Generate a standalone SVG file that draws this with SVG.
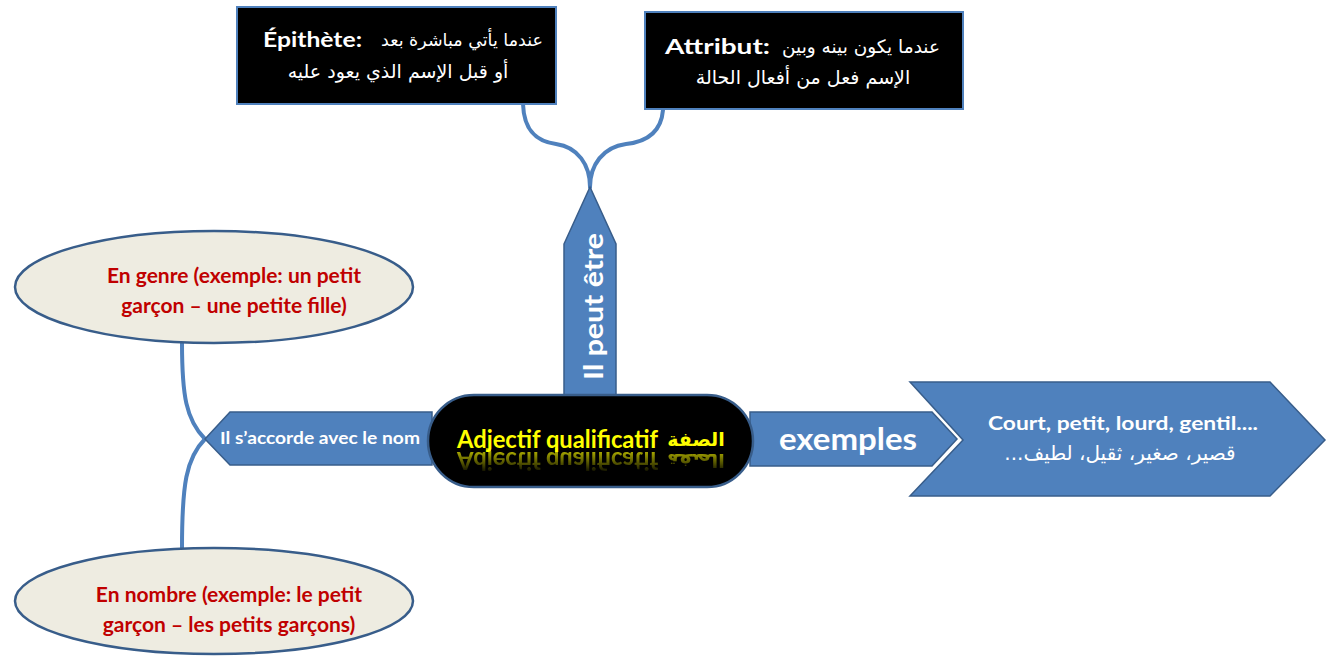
<svg xmlns="http://www.w3.org/2000/svg" width="1330" height="658" viewBox="0 0 1330 658">
<style>
.box{fill:#000;stroke:#4f81bd;stroke-width:2}
.blue{fill:#4f81bd;stroke:#385d8a;stroke-width:1.5}
.oval{fill:#eeece1;stroke:#385d8a;stroke-width:2.5}
.conn{fill:none;stroke:#4f81bd;stroke-width:4;stroke-linecap:round}
.lat{font-family:Lato,"Liberation Sans",sans-serif;font-weight:bold}
.ar{font-family:"DejaVu Sans","Noto Sans",sans-serif}
.w{fill:#fff}
.red{fill:#c00000;font-size:21px;text-anchor:middle}
.yel{fill:#ffff00}
</style>
<defs>
<linearGradient id="fade" gradientUnits="userSpaceOnUse" x1="0" y1="452" x2="0" y2="474">
<stop offset="0" stop-color="#fff" stop-opacity="0.65"/>
<stop offset="1" stop-color="#fff" stop-opacity="0"/>
</linearGradient>
<mask id="reflmask" maskUnits="userSpaceOnUse" x="400" y="440" width="400" height="60">
<rect x="400" y="440" width="400" height="60" fill="url(#fade)"/>
</mask>
<g id="titletext">
<text class="lat yel" x="457" y="448" font-size="24" textLength="201" lengthAdjust="spacingAndGlyphs">Adjectif qualificatif</text>
<text class="ar yel" x="696" y="446" font-size="19" font-weight="bold" text-anchor="middle">الصفة</text>
</g>
</defs>
<rect width="1330" height="658" fill="#fff"/>

<g id="connectors">
<path class="conn" d="M523,104 C524,134 540,142 556,144 C578,147 590,165 590,187"/>
<path class="conn" d="M663,110 C661,134 645,142 626,144 C603,147 590,165 590,187"/>
<path class="conn" d="M182,343 C182,395 186,420 205,439"/>
<path class="conn" d="M205,439 C186,458 182,485 182,548"/>
</g>

<g id="epithete">
<rect class="box" x="237" y="7" width="319" height="97"/>
<text class="lat w" x="263" y="47" font-size="20" textLength="99" lengthAdjust="spacingAndGlyphs">Épithète:</text>
<text class="ar w" x="462" y="46" font-size="17.5" text-anchor="middle">عندما يأتي مباشرة بعد</text>
<text class="ar w" x="398" y="78" font-size="19" text-anchor="middle">أو قبل الإسم الذي يعود عليه</text>
</g>

<g id="attribut">
<rect class="box" x="645" y="12" width="318" height="97"/>
<text class="lat w" x="665" y="54" font-size="20" textLength="105" lengthAdjust="spacingAndGlyphs">Attribut:</text>
<text class="ar w" x="861" y="53" font-size="18.5" text-anchor="middle">عندما يكون بينه وبين</text>
<text class="ar w" x="803" y="84" font-size="19" text-anchor="middle">الإسم فعل من أفعال الحالة</text>
</g>

<g id="peut-etre">
<path class="blue" d="M564,244 L590,187 L616,244 L616,400 L564,400 Z"/>
<text class="lat w" transform="translate(603,380) rotate(-90)" x="0" y="0" font-size="26" textLength="147" lengthAdjust="spacingAndGlyphs">Il peut être</text>
</g>

<g id="accorde">
<path class="blue" d="M205,439 L230,412 L432,412 L432,465 L230,465 Z"/>
<text class="lat w" x="220" y="444" font-size="17" textLength="200" lengthAdjust="spacingAndGlyphs">Il s’accorde avec le nom</text>
</g>

<g id="exemples">
<path class="blue" d="M750,412 L932,412 L957,439 L932,466 L750,466 Z"/>
<text class="lat w" x="779" y="450" font-size="31" textLength="138" lengthAdjust="spacingAndGlyphs">exemples</text>
</g>

<g id="center">
<rect x="428" y="395" width="325" height="92" rx="46" ry="46" fill="#000" stroke="#385d8a" stroke-width="2.5"/>
<use href="#titletext"/>
<g mask="url(#reflmask)">
<use href="#titletext" transform="matrix(1,0,0,-1,0,900)"/>
</g>
</g>

<g id="examples-list">
<path class="blue" d="M910,382 L1270,382 L1325,440 L1270,496 L910,496 L963,440 Z"/>
<text class="lat w" x="1123" y="430" font-size="19" text-anchor="middle" textLength="270" lengthAdjust="spacingAndGlyphs">Court, petit, lourd, gentil....</text>
<text class="ar w" x="1120" y="460" font-size="20" text-anchor="middle" direction="rtl">قصير، صغير، ثقيل، لطيف...</text>
</g>

<g id="genre">
<ellipse class="oval" cx="214" cy="287" rx="199" ry="56"/>
<text class="lat red" x="234" y="283">En genre (exemple: un petit</text>
<text class="lat red" x="234" y="313">garçon – une petite fille)</text>
</g>

<g id="nombre">
<ellipse class="oval" cx="214" cy="601" rx="199" ry="53"/>
<text class="lat red" x="229" y="602">En nombre (exemple: le petit</text>
<text class="lat red" x="229" y="632">garçon – les petits garçons)</text>
</g>
</svg>
